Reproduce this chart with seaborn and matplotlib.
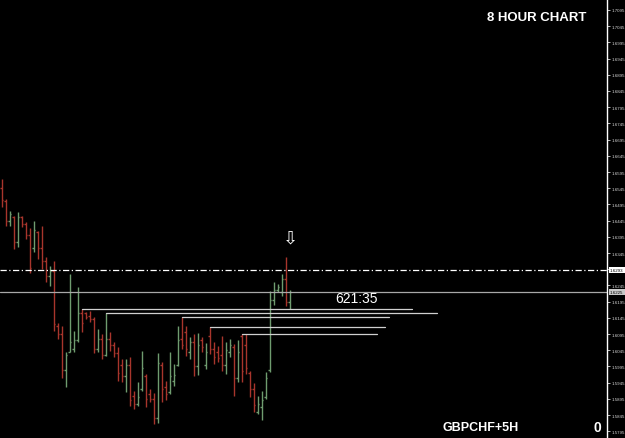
import numpy as np
import pandas as pd
import matplotlib
matplotlib.use("Agg")
import matplotlib.pyplot as plt
import matplotlib.transforms as mtransforms
import seaborn as sns

# ---- data ----
highs = [1.6573, 1.6512, 1.6475, 1.6459, 1.6472, 1.6459, 1.6441, 1.6422, 1.6444, 1.6413,
         1.6428, 1.6333, 1.6305, 1.6320, 1.6129, 1.6120, 1.6040, 1.6280, 1.6104, 1.6240,
         1.6172, 1.6163, 1.6166, 1.6148, 1.6111, 1.6095, 1.6160, 1.6101, 1.6070, 1.6055,
         1.6018, 1.6018, 1.6024, 1.5919, 1.5947, 1.6043, 1.5972, 1.5925, 1.5913, 1.6036,
         1.6009, 1.5950, 1.6040, 1.6003, 1.6120, 1.6148, 1.6120, 1.6086, 1.6095, 1.6098,
         1.6086, 1.6067, 1.6117, 1.6070, 1.6058, 1.6089, 1.6070, 1.6080, 1.6064, 1.6077,
         1.6095, 1.6095, 1.5981, 1.5944, 1.5904, 1.5919, 1.5978, 1.6228, 1.6256, 1.6249,
         1.6280, 1.6333, 1.6231]
lows = [1.6487, 1.6428, 1.6428, 1.6357, 1.6364, 1.6425, 1.6388, 1.6283, 1.6348, 1.6327,
        1.6296, 1.6256, 1.6243, 1.6104, 1.6080, 1.5959, 1.5932, 1.6040, 1.6040, 1.6070,
        1.6101, 1.6141, 1.6132, 1.6036, 1.6040, 1.6018, 1.6027, 1.6043, 1.6024, 1.5950,
        1.5947, 1.5916, 1.5873, 1.5864, 1.5873, 1.5919, 1.5870, 1.5885, 1.5817, 1.5820,
        1.5885, 1.5891, 1.5910, 1.5935, 1.5996, 1.6049, 1.6027, 1.6018, 1.5966, 1.5969,
        1.6040, 1.5987, 1.6033, 1.6003, 1.6009, 1.5981, 1.5972, 1.6024, 1.5904, 1.5947,
        1.5947, 1.5972, 1.5901, 1.5854, 1.5848, 1.5830, 1.5894, 1.5978, 1.6185, 1.6225,
        1.6212, 1.6181, 1.6172]
opens = [1.6545, 1.6505, 1.6445, 1.6455, 1.6380, 1.6455, 1.6435, 1.6400, 1.6360, 1.6410,
         1.6360, 1.6320, 1.6275, 1.6290, 1.6120, 1.6095, 1.5985, 1.6040, 1.6050, 1.6075,
         1.6160, 1.6160, 1.6150, 1.6140, 1.6050, 1.6080, 1.6030, 1.6080, 1.6060, 1.6035,
         1.6000, 1.5965, 1.6000, 1.5905, 1.5880, 1.5925, 1.5965, 1.5910, 1.5895, 1.5835,
         1.6000, 1.5930, 1.5915, 1.5950, 1.6000, 1.6080, 1.6100, 1.6040, 1.6070, 1.5995,
         1.6075, 1.6000, 1.6090, 1.6050, 1.6040, 1.6030, 1.6000, 1.6040, 1.6055, 1.5960,
         1.6090, 1.6060, 1.5975, 1.5925, 1.5855, 1.5870, 1.5900, 1.5985, 1.6200, 1.6230,
         1.6225, 1.6265, 1.6195]
closes = [1.6510, 1.6445, 1.6465, 1.6380, 1.6455, 1.6435, 1.6400, 1.6300, 1.6415, 1.6360,
          1.6320, 1.6275, 1.6290, 1.6125, 1.6095, 1.5985, 1.6030, 1.6070, 1.6075, 1.6160,
          1.6130, 1.6148, 1.6140, 1.6050, 1.6080, 1.6030, 1.6080, 1.6060, 1.6035, 1.5975,
          1.5965, 1.6000, 1.5890, 1.5880, 1.5900, 1.5990, 1.5895, 1.5895, 1.5835, 1.6005,
          1.5925, 1.5910, 1.5965, 1.5970, 1.6075, 1.6060, 1.6050, 1.6070, 1.5995, 1.6060,
          1.6055, 1.6040, 1.6050, 1.6025, 1.6020, 1.6000, 1.6045, 1.6060, 1.5960, 1.6040,
          1.5980, 1.5990, 1.5925, 1.5875, 1.5880, 1.5890, 1.5960, 1.6200, 1.6230, 1.6240,
          1.6265, 1.6195, 1.6225]

# support lines: start bar index, end (bar units), price level
level_start = [20, 26, 45, 52, 60]
level_end = [102.6, 108.8, 96.8, 95.8, 93.8]
level_price = [1.6172, 1.6160, 1.6148, 1.6117, 1.6095]

dashdot_level = 1.6293
bid_level = 1.6225
tick_values = [1.7095, 1.7045, 1.6995, 1.6945, 1.6895, 1.6845, 1.6795, 1.6745, 1.6695,
               1.6645, 1.6595, 1.6545, 1.6495, 1.6445, 1.6395, 1.6345, 1.6295, 1.6245,
               1.6195, 1.6145, 1.6095, 1.6045, 1.5995, 1.5945, 1.5895, 1.5845, 1.5795]

df = pd.DataFrame({"bar": np.arange(len(highs)), "open": opens, "high": highs,
                   "low": lows, "close": closes})
df["dir"] = np.where(df["close"] >= df["open"], "up", "down")

# ---- style ----
sns.set_theme(style="dark", rc={"axes.facecolor": "black", "figure.facecolor": "black",
                                "axes.grid": False})
plt.rcParams["font.family"] = ["Liberation Sans", "DejaVu Sans"]

fig = plt.figure(figsize=(6.25, 4.39), dpi=100)
ax = fig.add_axes([0, 0, 607 / 625, 1])
ax.set_facecolor("black")

palette = {"up": "#6f9c6f", "down": "#a8352c"}
colors = df["dir"].map(palette)

ax.vlines(df["bar"], df["low"], df["high"], colors=colors, lw=1.0)
ax.hlines(df["open"], df["bar"] - 0.4, df["bar"], colors=colors, lw=1.0)
ax.hlines(df["close"], df["bar"], df["bar"] + 0.4, colors=colors, lw=1.0)

# horizontal support lines through seaborn
for s, e, p in zip(level_start, level_end, level_price):
    seg = pd.DataFrame({"x": [s, e], "y": [p, p]})
    sns.lineplot(data=seg, x="x", y="y", ax=ax, color="#d0d0d0", lw=0.9)

ax.axhline(dashdot_level, color="white", lw=0.9, dashes=(5, 2, 1, 2))
ax.axhline(bid_level, color="#a8a8a8", lw=0.9)

ax.set_xlim(-0.425, 151.325)
ax.set_ylim(1.57741, 1.71289)

# right axis
tick_font = ["Liberation Sans Narrow", "Liberation Sans"]
ax.yaxis.tick_right()
ax.set_yticks(tick_values)
ax.set_yticklabels([f"{v:.4f}" for v in tick_values], fontsize=3.2, color="#d8d8d8",
                   family=tick_font)
ax.tick_params(axis="y", colors="#d8d8d8", length=2, width=0.6, pad=1.0, labelcolor="#d8d8d8")
ax.set_xticks([])
ax.set_xlabel("")
ax.set_ylabel("")
for side in ["top", "left", "bottom"]:
    ax.spines[side].set_visible(False)
ax.spines["right"].set_color("white")
ax.spines["right"].set_linewidth(1.0)

trans = mtransforms.blended_transform_factory(ax.transAxes, ax.transData)
ax.text(1.005, dashdot_level, f"{dashdot_level:.4f}", transform=trans, fontsize=3.2,
        color="black", va="center", ha="left", family=tick_font,
        bbox=dict(boxstyle="square,pad=0.25", fc="white", ec="none"), clip_on=False)
ax.text(1.005, bid_level, f"{bid_level:.4f}", transform=trans, fontsize=3.2,
        color="black", va="center", ha="left", family=tick_font,
        bbox=dict(boxstyle="square,pad=0.25", fc="#c8c8c8", ec="none"), clip_on=False)

# texts
fig.text(537 / 625, 1 - 18 / 439, "8 HOUR CHART", color="white", fontsize=9.5,
         fontweight="bold", ha="center", va="center")
fig.text(481 / 625, 1 - 428 / 439, "GBPCHF+5H", color="white", fontsize=9,
         fontweight="bold", ha="center", va="center")
fig.text(597 / 625, 1 - 428 / 439, "0", color="white", fontsize=10,
         fontweight="bold", ha="center", va="center")
fig.text(356 / 625, 1 - 299 / 439, "621:35", color="white", fontsize=10,
         ha="center", va="center")
fig.text(290 / 625, 1 - 239 / 439, "\u21e9", color="white", fontsize=13,
         ha="center", va="center", family=["DejaVu Sans"])

fig.savefig("out.png", dpi=100, facecolor="black")
